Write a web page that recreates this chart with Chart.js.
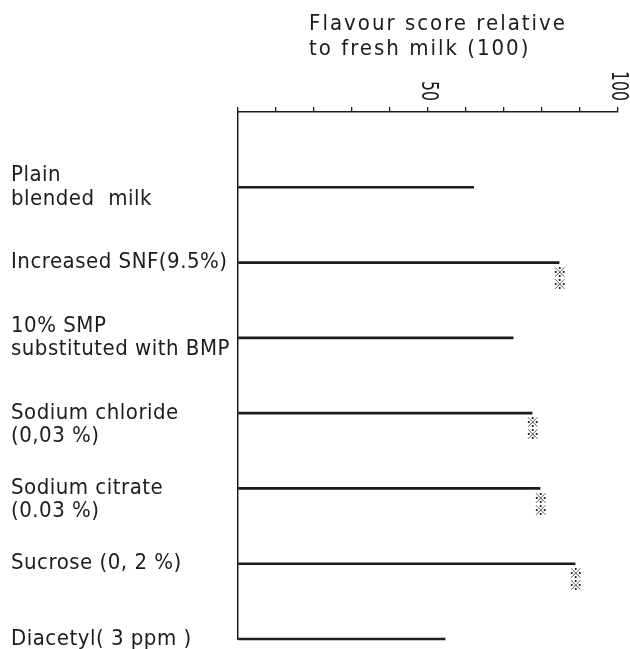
<!DOCTYPE html>
<html>
<head>
<meta charset="utf-8">
<script src="https://cdn.jsdelivr.net/npm/chart.js@4"></script>
<style>
  html, body { margin: 0; padding: 0; background: #fff; }
  #wrap { width: 630px; height: 649px; }
</style>
</head>
<body>
<div id="wrap"><canvas id="c"></canvas></div>
<script>
// treatments, top to bottom (leading '' keeps the first line level with the bar)
const treatments = [
  ['Plain', 'blended  milk'],
  'Increased SNF(9.5%)',
  ['10% SMP', 'substituted with BMP'],
  ['', 'Sodium chloride', '(0,03 %)'],
  ['', 'Sodium citrate', '(0.03 %)'],
  'Sucrose (0, 2 %)',
  'Diacetyl( 3 ppm )'
];
const flavourScores = [62, 84.5, 72.4, 77.4, 79.5, 88.7, 54.5];
const significance = ['', '**', '', '**', '**', '**', ''];
const scoreTickLabels = [50, 100];
const titleLines = ['Flavour score relative', 'to fresh milk (100)'];

const INK = '#1c1c1c';
const FONT = "'DejaVu Sans Condensed', 'DejaVu Sans', sans-serif";

// slightly spaced lettering, like the stencil font of the original
const spacing = {
  id: 'spacing',
  beforeDraw(chart) { chart.ctx.letterSpacing = '0.5px'; }
};

// title and the "50" / "100" labels reading top-to-bottom above the axis
const topLabels = {
  id: 'topLabels',
  afterDraw(chart) {
    const ctx = chart.ctx, x = chart.scales.x;
    ctx.save();
    ctx.fillStyle = INK;
    ctx.letterSpacing = '2px';
    ctx.font = '22px ' + FONT;
    ctx.textAlign = 'left';
    ctx.textBaseline = 'alphabetic';
    const w = ctx.measureText(titleLines[0]).width;
    const tx = (x.left + x.right) / 2 + 10 - w / 2;
    titleLines.forEach((t, i) => ctx.fillText(t, tx, 30 + i * 25));

    ctx.letterSpacing = '0px';
    ctx.font = '23px ' + FONT;
    ctx.textAlign = 'right';
    ctx.textBaseline = 'middle';
    scoreTickLabels.forEach(v => {
      ctx.save();
      ctx.translate(x.getPixelForValue(v), x.bottom - 11);
      ctx.rotate(Math.PI / 2);
      ctx.scale(0.76, 1);
      ctx.fillText(String(v), 0, 0);
      ctx.restore();
    });
    ctx.restore();
  }
};

// significance marks under the bar ends
const marks = {
  id: 'marks',
  afterDatasetsDraw(chart) {
    const ctx = chart.ctx;
    const bars = chart.getDatasetMeta(0).data;
    ctx.save();
    ctx.fillStyle = INK;
    ctx.font = "bold 14px 'Noto Sans CJK JP', 'DejaVu Sans', sans-serif";
    ctx.textAlign = 'center';
    ctx.textBaseline = 'middle';
    bars.forEach((bar, i) => {
      if (significance[i] !== '**') return;
      ctx.fillText('\u203B', bar.x + 1, bar.y + 9);
      ctx.fillText('\u203B', bar.x + 1, bar.y + 21);
    });
    ctx.restore();
  }
};

new Chart(document.getElementById('c'), {
  type: 'bar',
  data: {
    datasets: [{
      data: flavourScores.map((v, i) => ({ x: v, y: i + 1 })),
      backgroundColor: INK,
      borderWidth: 0,
      barThickness: 2,
      clip: false
    }]
  },
  options: {
    indexAxis: 'y',
    responsive: true,
    maintainAspectRatio: false,
    animation: false,
    layout: { padding: { left: 11, top: 0, right: 12, bottom: 10 } },
    plugins: { legend: { display: false }, tooltip: { enabled: false } },
    scales: {
      x: {
        type: 'linear',
        position: 'top',
        min: 0, max: 100,
        afterFit(s) { s.height = 112; },
        ticks: { stepSize: 10, display: false },
        grid: { drawOnChartArea: false, drawTicks: true, tickLength: 5, color: INK, lineWidth: 1.3 },
        border: { display: true, color: INK, width: 1.5 }
      },
      y: {
        type: 'linear',
        position: 'left',
        offset: false,
        min: 0, max: treatments.length,
        reverse: true,
        afterFit(s) { s.width = 227; s.paddingTop = 0; s.paddingBottom = 0; },
        afterBuildTicks(s) { s.ticks = treatments.map((_, i) => ({ value: i + 1 })); },
        ticks: {
          crossAlign: 'far',
          color: INK,
          font: { family: FONT, size: 22, lineHeight: 1.05 },
          callback: v => treatments[v - 1] || ''
        },
        grid: { display: false, drawTicks: false },
        border: { display: true, color: INK, width: 1.5 }
      }
    }
  },
  plugins: [spacing, topLabels, marks]
});
</script>
</body>
</html>
